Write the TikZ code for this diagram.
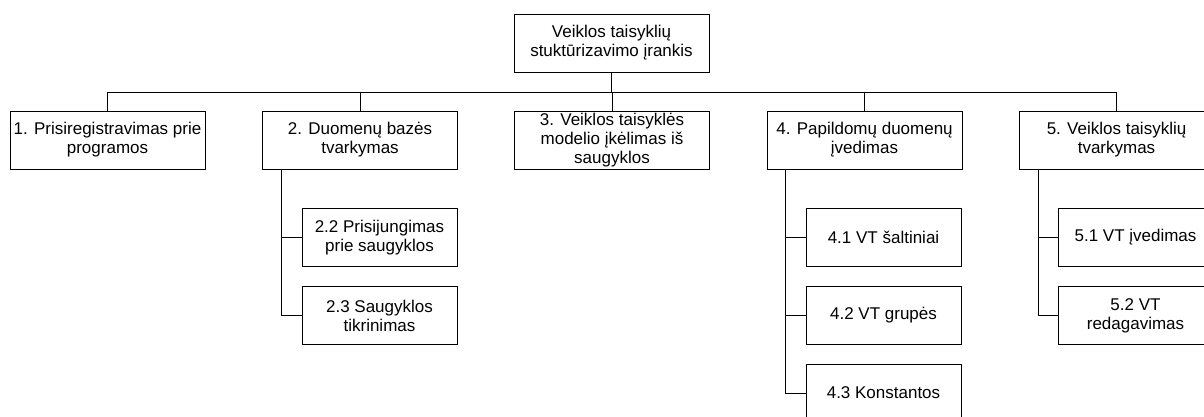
\documentclass[tikz,border=0pt]{standalone}
\usepackage{fontspec}
\setmainfont{Liberation Sans}
\begin{document}
\begin{tikzpicture}[x=1pt,y=-1pt,
  box/.style={draw, line width=0.9pt, minimum height=58pt, inner sep=0pt,
    align=center, font=\fontsize{17}{19}\selectfont},
  wide/.style={box, minimum width=195pt},
  narrow/.style={box, minimum width=155pt},
  link/.style={draw, line width=0.9pt}]
\useasboundingbox (0,0) rectangle (1204,416);
\clip (0,0) rectangle (1204,416);
\fill[white] (0,0) rectangle (1204,416);

% root
\node[wide] (top) at (611.5,43) {Veiklos taisyklių\\stuktūrizavimo įrankis};

% first level
\node[wide] (b1) at (107.5,140) {1. Prisiregistravimas prie\\programos};
\node[wide] (b2) at (360,140) {2. Duomenų bazės\\tvarkymas};
\node[wide] (b3) at (612,140) {3. Veiklos taisyklės\\modelio įkėlimas iš\\saugyklos};
\node[wide] (b4) at (864.5,140) {4. Papildomų duomenų\\įvedimas};
\node[wide] (b5) at (1116.5,140) {5. Veiklos taisyklių\\tvarkymas};

% second level
\node[narrow] (c22) at (379.5,237.5) {2.2 Prisijungimas\\prie saugyklos};
\node[narrow] (c23) at (379.5,315.5) {2.3 Saugyklos\\tikrinimas};
\node[narrow] (c41) at (883.5,237) {4.1 VT šaltiniai};
\node[narrow] (c42) at (883.5,315.5) {4.2 VT grupės};
\node[narrow] (c43) at (883.5,393) {4.3 Konstantos};
\node[narrow] (c51) at (1135.5,237) {5.1 VT įvedimas};
\node[narrow] (c52) at (1135.5,315.5) {5.2 VT\\redagavimas};

% bus between root and first level
\coordinate (bus) at (0,92);
\draw[link] (top.south) -- (top.south |- bus);
\draw[link] (b1.north |- bus) -- (b5.north |- bus);
\foreach \n in {b1,b2,b3,b4,b5}
  \draw[link] (\n.north) -- (\n.north |- bus);

% spines to the sub-items
\coordinate (s2) at ([xshift=19pt]b2.south west);
\coordinate (s4) at ([xshift=19pt]b4.south west);
\coordinate (s5) at ([xshift=20pt]b5.south west);
\foreach \c in {c22,c23} \draw[link] (s2) |- (\c.west);
\foreach \c in {c41,c42,c43} \draw[link] (s4) |- (\c.west);
\foreach \c in {c51,c52} \draw[link] (s5) |- (\c.west);
\end{tikzpicture}
\end{document}
